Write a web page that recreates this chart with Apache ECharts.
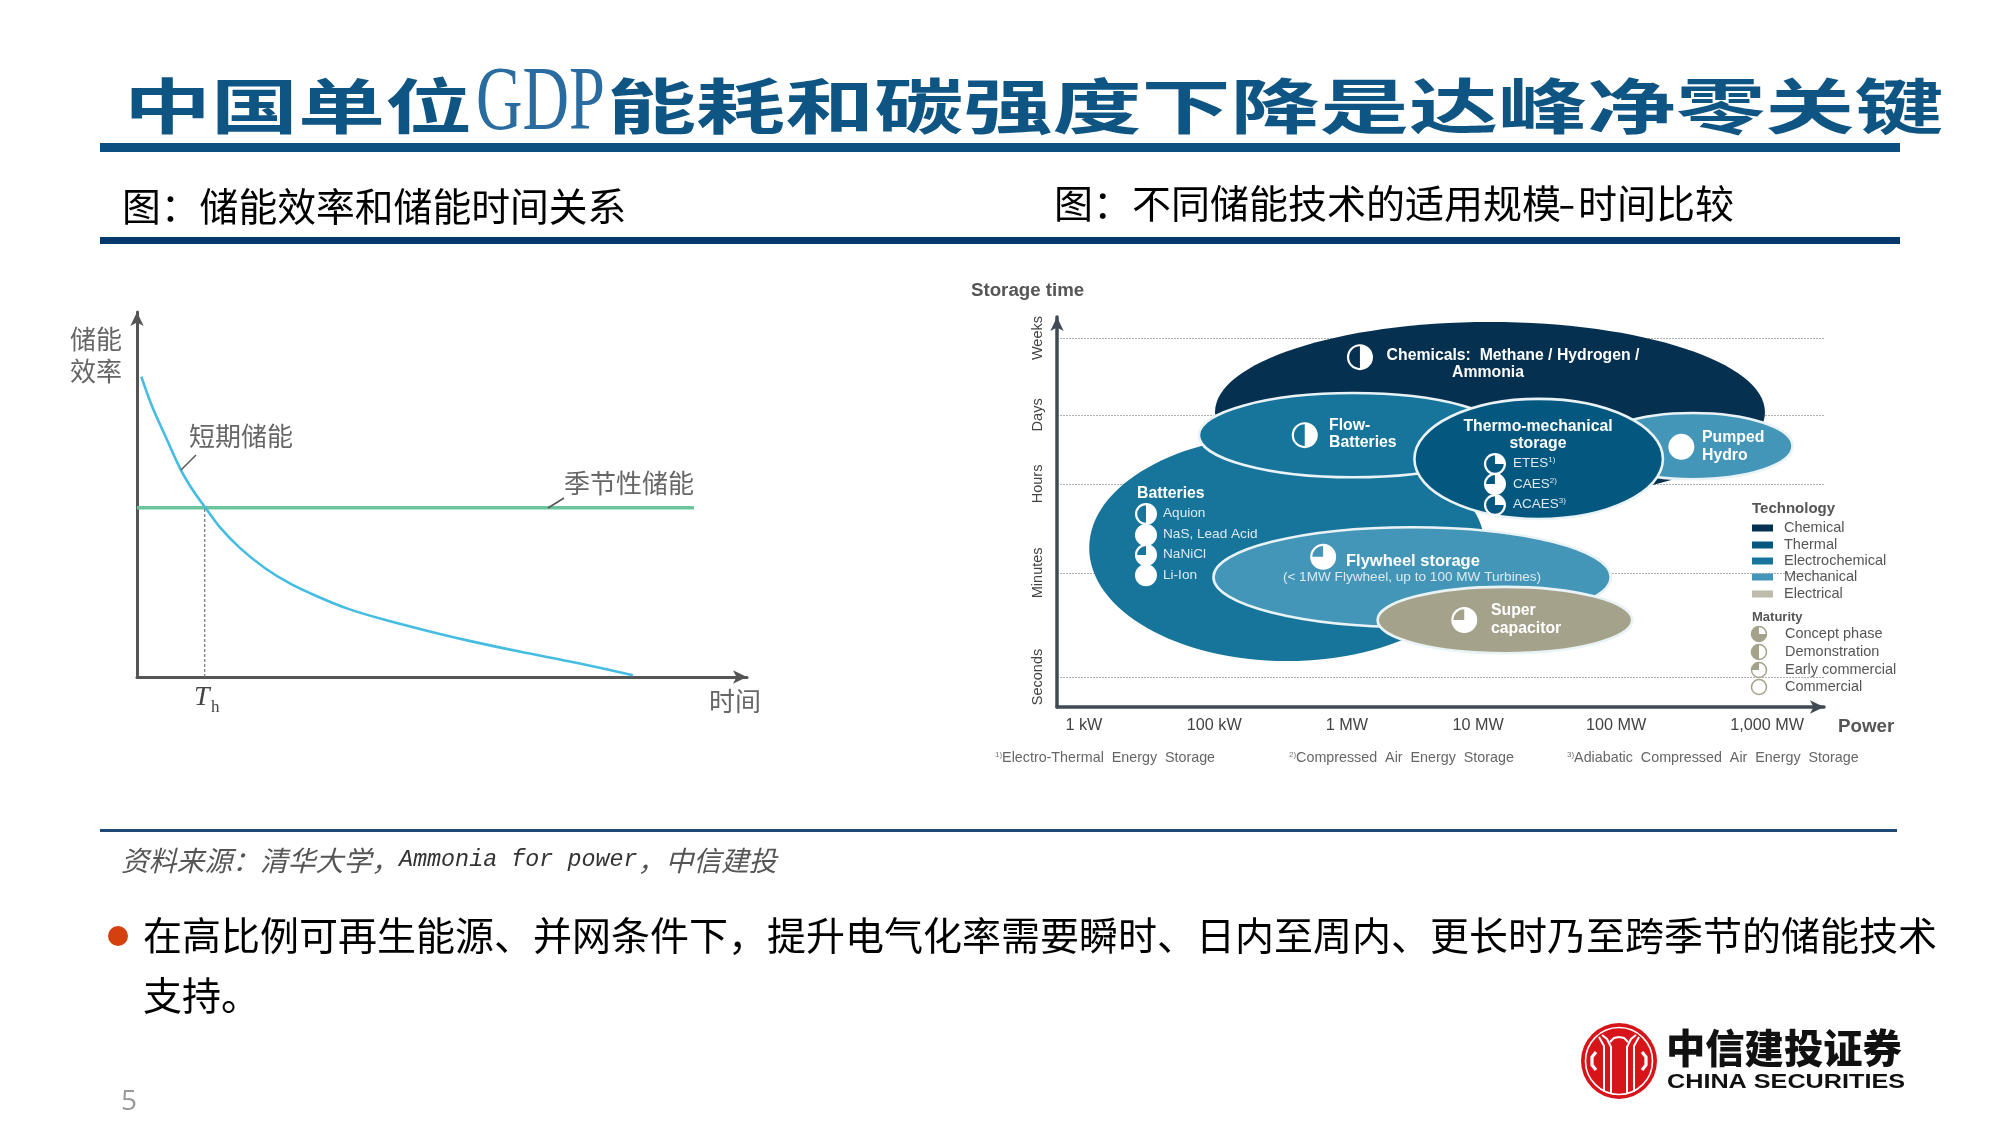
<!DOCTYPE html>
<html><head><meta charset="utf-8">
<style>html,body{margin:0;padding:0;background:#fff}#c{width:2000px;height:1125px}</style>
<script src="https://cdn.jsdelivr.net/npm/echarts@6/dist/echarts.min.js"></script>
</head><body><div id="c"></div>
<script>
// ---------- Left chart: efficiency vs. time (axis units 0-100) ----------
const shortTermTime = [0.7,2.6,4.7,7.2,9.3,11.2,13.5,16.9,21.0,25.2,29.4,34.4,40.3,47.0,54.5,62.9,72.0,81.3];
const shortTermEff  = [82.3,73.6,65.8,56.7,50.8,46.4,41.2,35.3,29.8,25.5,22.2,18.8,15.8,12.9,9.9,6.9,3.9,0.5];
const seasonalTime  = [0,91.3];
const seasonalEff   = [46.4,46.4];
const crossingTime  = 11.1;

// ---------- Right chart: power vs. storage time (axis units 0-100) ----------
const powerTicks  = [3.5,20.5,37.8,54.9,72.9,92.6];
const powerLabels = ['1 kW','100 kW','1 MW','10 MW','100 MW','1,000 MW'];
const timeTicks   = [7.7,34.4,57.2,74.9,94.6];
const timeLabels  = ['Seconds','Minutes','Hours','Days','Weeks'];

const techNames  = ['Chemicals','Batteries','Flow-Batteries','Pumped Hydro','Thermo-mechanical','Flywheel','Super capacitor'];
const techPower  = [56.45,30.0,38.6,82.9,62.8,46.3,58.4];
const techTime   = [75.6,40.8,69.7,66.9,63.6,33.3,22.3];
const techPowerR = [35.85,25.8,20.1,13.0,16.2,25.9,16.6];
const techTimeR  = [23.1,29.0,10.8,8.5,15.4,12.8,8.5];
const techGroup  = ['Chemical','Electrochemical','Electrochemical','Mechanical','Thermal','Mechanical','Electrical'];

const legendTech = ['Chemical','Thermal','Electrochemical','Mechanical','Electrical'];
const legendMaturity = ['Concept phase','Demonstration','Early commercial','Commercial'];
const maturityShare  = [0.75,0.5,0.25,0];

const ballNames = ['Chemicals','Flow','Pumped','ETES','CAES','ACAES','Aquion','NaS','NaNiCl','Li-Ion','Flywheel','Super'];
const ballPower = [39.5,32.3,81.4,57.1,57.1,57.1,11.6,11.6,11.6,11.6,34.7,53.1];
const ballTime  = [89.7,69.7,66.7,62.3,57.2,51.8,49.5,44.1,39.0,33.8,38.5,22.3];
const ballShare = [0.5,0.5,0,0.75,0.25,0.75,0.5,0,0.25,0,0.25,0.25];
const ballGroup = ['Chemical','Electrochemical','Mechanical','Thermal','Thermal','Thermal','Electrochemical','Electrochemical','Electrochemical','Electrochemical','Mechanical','Electrical'];

// ---------- Styles ----------
const CJK='"Noto Sans CJK SC"', LAT='"Liberation Sans"';
const techColor={Chemical:'#05304f',Thermal:'#04587f',Electrochemical:'#17759c',Mechanical:'#4396b8',Electrical:'#a5a28b'};
const legendColor=Object.assign({},techColor,{Electrical:'#bdbbaa'});
const bordered=[false,false,true,true,true,true,true];
const bigBall=[13,13,13,11,11,11,11,11,11,11,13,13];

function T(text,x,y,o){o=o||{};
  return {type:'text',x:x,y:y,z:o.z||50,scaleX:o.sx||1,scaleY:o.sy||1,silent:true,style:{
    text:text,fill:o.c||'#000',textAlign:o.a||'left',textVerticalAlign:'middle',
    fontFamily:o.f||LAT,fontSize:o.s||14,fontWeight:o.w||'normal',fontStyle:o.i||'normal',rich:o.rich
  }};
}
function R(x,y,w,h,c){return {type:'rect',z:40,silent:true,shape:{x:x,y:y,width:w,height:h},style:{fill:c}};}
function L(x1,y1,x2,y2,c,w){return {type:'line',z:40,silent:true,shape:{x1:x1,y1:y1,x2:x2,y2:y2},style:{stroke:c,lineWidth:w}};}

const g=[];
// title
g.push(T('中国单位',124,106,{s:60,w:700,f:CJK,c:'#0e5584',sx:1.45}));
g.push(T('GDP',476,105,{s:92,f:'"Liberation Serif"',c:'#2a6c9f',sx:0.7}));
g.push(T('能耗和碳强度下降是达峰净零关键',607,106,{s:60,w:700,f:CJK,c:'#0e5584',sx:1.485}));
g.push(R(100,143,1800,9,'#0b4f80'));
g.push(T('图：储能效率和储能时间关系',122,206,{s:38.8,f:CJK}));
g.push(T('图：不同储能技术的适用规模',1054,203,{s:39,f:CJK}));
g.push(T('-',1558,203,{s:39,f:CJK,sx:1.3}));
g.push(T('时间比较',1578,203,{s:39,f:CJK}));
g.push(R(100,237,1800,7,'#04396c'));
// left annotations
const grey='#666';
g.push(T('储能',96,339,{s:26,f:CJK,c:grey,a:'center'}));
g.push(T('效率',96,371,{s:26,f:CJK,c:grey,a:'center'}));
g.push(T('短期储能',241,436,{s:26,f:CJK,c:grey,a:'center'}));
g.push(T('季节性储能',629,483,{s:26,f:CJK,c:grey,a:'center'}));
g.push(T('时间',735,701,{s:26,f:CJK,c:grey,a:'center'}));
g.push(T('T',194,698,{s:28,f:'"Liberation Serif"',i:'italic',c:'#444'}));
g.push(T('h',211,708,{s:17,f:'"Liberation Serif"',c:'#444'}));
g.push(L(181,470,196,455,'#555',1.5));
g.push(L(548,508,564,498,'#555',1.5));
// right chart titles and labels
g.push(T('Storage time',971,291,{s:18.7,w:'bold',c:'#555'}));
g.push(T('Power',1838,727,{s:18.8,w:'bold',c:'#555'}));
const notes=[[995,'1)','Electro-Thermal  Energy  Storage'],[1289,'2)','Compressed  Air  Energy  Storage'],[1567,'3)','Adiabatic  Compressed  Air  Energy  Storage']];
notes.forEach(n=>g.push(T('{s|'+n[1]+'}{t|'+n[2]+'}',n[0],758,{rich:{s:{fontSize:8,fill:'#777',verticalAlign:'top',fontFamily:LAT},t:{fontSize:14.3,fill:'#666',fontFamily:LAT}}})));
// ellipse texts
const W='#fff',LW='#dce9ef';
const B={s:15.8,w:'bold',c:W,z:60};
g.push(T('Chemicals:  Methane / Hydrogen /',1513,356,Object.assign({a:'center'},B)));
g.push(T('Ammonia',1488,373,Object.assign({a:'center'},B)));
g.push(T('Flow-',1329,426,B));g.push(T('Batteries',1329,443,B));
g.push(T('Thermo-mechanical',1538,427,Object.assign({a:'center'},B)));
g.push(T('storage',1538,444,Object.assign({a:'center'},B)));
g.push(T('Pumped',1702,438,B));g.push(T('Hydro',1702,456,B));
g.push(T('Batteries',1137,494,B));
const sm={s:13.6,c:LW,z:60};
[['Aquion',513],['NaS, Lead Acid',534],['NaNiCl',554],['Li-Ion',575]].forEach(a=>g.push(T(a[0],1163,a[1],sm)));
[['ETES','1)',463],['CAES','2)',484],['ACAES','3)',504]].forEach(a=>g.push(T('{a|'+a[0]+'}{b|'+a[1]+'}',1513,a[2],{z:60,rich:{a:{fontSize:13.5,fill:LW,fontFamily:LAT},b:{fontSize:8,fill:LW,verticalAlign:'top',fontFamily:LAT}}})));
g.push(T('Flywheel storage',1346,561,{s:16.5,w:'bold',c:W,z:60}));
g.push(T('(< 1MW Flywheel, up to 100 MW Turbines)',1412,577,{s:13.6,c:LW,a:'center',z:60}));
g.push(T('Super',1491,611,B));g.push(T('capacitor',1491,629,B));
// legend
g.push(T('Technology',1752,509,{s:15,w:'bold',c:'#555'}));
legendTech.forEach((t,i)=>{const y=[528,545,561,577,594][i];
  g.push(R(1752,y-3.5,21,7,legendColor[t]));g.push(T(t,1784,y,{s:14.5,c:'#555'}));});
g.push(T('Maturity',1752,617,{s:13,w:'bold',c:'#555'}));
legendMaturity.forEach((t,i)=>{const y=[634,652,670,687][i],d=maturityShare[i];
  g.push({type:'circle',z:40,silent:true,shape:{cx:1759,cy:y,r:7.5},style:{fill:'#fff',stroke:'#a5a28b',lineWidth:1.5}});
  if(d>0)g.push({type:'sector',z:41,silent:true,shape:{cx:1759,cy:y,r:7.5,r0:0,startAngle:1.5*Math.PI-d*2*Math.PI,endAngle:1.5*Math.PI},style:{fill:'#a5a28b'}});
  g.push(T(t,1785,y,{s:14.5,c:'#555'}));});
// footer
g.push(R(100,829,1797,3,'#1f4a78'));
g.push(T('{c|资料来源：清华大学，}{m|Ammonia for power}{c|，中信建投}',121,860,{rich:{
  c:{fontSize:27.8,fontFamily:CJK,fontStyle:'italic',fill:'#555'},
  m:{fontSize:23.4,fontFamily:'"Liberation Mono"',fontStyle:'italic',fill:'#333'}}}));
g.push({type:'circle',z:40,silent:true,shape:{cx:118,cy:936,r:10},style:{fill:'#d4410f'}});
g.push(T('在高比例可再生能源、并网条件下，提升电气化率需要瞬时、日内至周内、更长时乃至跨季节的储能技术',143,935,{s:39,f:CJK}));
g.push(T('支持。',143,995,{s:39,f:CJK}));
g.push(T('5',129,1102,{s:28,c:'#999',a:'center',f:'"Open Sans"'}));
// logo
const lx=1619,ly=1061;
const lc=(pts,w)=>({type:'polyline',z:45,silent:true,shape:{points:pts.map(p=>[lx+p[0],ly+p[1]])},style:{stroke:'#fff',lineWidth:w||2,fill:null}});
g.push({type:'circle',z:44,silent:true,shape:{cx:lx,cy:ly,r:38},style:{fill:'#d7141a'}});
g.push({type:'circle',z:45,silent:true,shape:{cx:lx,cy:ly,r:33.5},style:{fill:null,stroke:'#fff',lineWidth:1.6}});
g.push(lc([[-15,31],[-15,-15],[-20,-24]]));
g.push(lc([[15,31],[15,-15],[20,-24]]));
g.push(lc([[-8,32],[-8,-14],[-12,-22],[-17,-26]]));
g.push(lc([[8,32],[8,-14],[12,-22],[17,-26]]));
g.push(lc([[-9,-19],[-5,-23],[0,-24],[5,-23],[9,-19]]));
g.push(lc([[-23,-9],[-27,-4],[-27,4],[-23,9]],3.2));
g.push(lc([[23,-9],[27,-4],[27,4],[23,9]],3.2));
g.push(T('中信建投证券',1666,1048,{s:39.3,w:900,f:CJK,c:'#111'}));
g.push(T('CHINA SECURITIES',1667,1082,{s:21,w:'bold',c:'#111',sx:1.2}));

// ---------- Chart ----------
const axisStyle={lineStyle:{color:'#555',width:3}};
const option={
  animation:false,backgroundColor:'#fff',
  grid:[
    {left:137,right:1253,top:312,bottom:448},
    {left:1057,right:176,top:317,bottom:418}
  ],
  xAxis:[
    {gridIndex:0,type:'value',min:0,max:100,splitLine:{show:false},axisTick:{show:false},axisLabel:{show:false},
     axisLine:Object.assign({show:true,onZero:false,symbol:['none','arrow'],symbolSize:[10,14],symbolOffset:[0,0]},axisStyle)},
    {gridIndex:1,type:'value',min:0,max:100,splitLine:{show:false},
     axisTick:{show:false,customValues:powerTicks},
     axisLabel:{customValues:powerTicks,margin:11,color:'#444',fontFamily:LAT,fontSize:16.2,
       formatter:v=>powerLabels[powerTicks.indexOf(v)]},
     axisLine:{show:true,onZero:false,symbol:['none','arrow'],symbolSize:[10,14],symbolOffset:[0,0],lineStyle:{color:'#3f4a55',width:3.5}}}
  ],
  yAxis:[
    {gridIndex:0,type:'value',min:0,max:100,splitLine:{show:false},axisTick:{show:false},axisLabel:{show:false},
     axisLine:Object.assign({show:true,onZero:false,symbol:['none','arrow'],symbolSize:[10,14],symbolOffset:[0,0]},axisStyle)},
    {gridIndex:1,type:'value',min:0,max:100,
     splitLine:{show:true,lineStyle:{color:'#b0b0b0',type:[2,1],width:1}},
     axisTick:{show:false,customValues:timeTicks},
     axisLabel:{customValues:timeTicks,margin:12,rotate:90,color:'#444',fontFamily:LAT,fontSize:14.5,
       formatter:v=>timeLabels[timeTicks.indexOf(v)]},
     axisLine:{show:true,onZero:false,symbol:['none','arrow'],symbolSize:[10,14],symbolOffset:[0,0],lineStyle:{color:'#3f4a55',width:3.5}}}
  ],
  series:[
    {type:'line',name:'季节性储能',xAxisIndex:0,yAxisIndex:0,showSymbol:false,
     data:seasonalTime.map((t,i)=>[t,seasonalEff[i]]),lineStyle:{color:'#6cc49c',width:3.5},z:2},
    {type:'line',name:'Th',xAxisIndex:0,yAxisIndex:0,showSymbol:false,
     data:[[crossingTime,0],[crossingTime,seasonalEff[0]]],lineStyle:{color:'#777',width:1.2,type:[3,2]},z:2},
    {type:'line',name:'短期储能',xAxisIndex:0,yAxisIndex:0,showSymbol:false,smooth:0.3,
     data:shortTermTime.map((t,i)=>[t,shortTermEff[i]]),lineStyle:{color:'#45bde3',width:2.6},z:3},
    {type:'custom',name:'tech',xAxisIndex:1,yAxisIndex:1,z:5,clip:false,
     data:techNames.map((n,i)=>({name:n,value:[techPower[i],techTime[i],techPowerR[i],techTimeR[i]]})),
     renderItem:function(p,api){
       const c=api.coord([api.value(0),api.value(1)]),s=api.size([api.value(2),api.value(3)]),i=p.dataIndex;
       return {type:'ellipse',shape:{cx:c[0],cy:c[1],rx:s[0],ry:s[1]},
         style:{fill:techColor[techGroup[i]],stroke:bordered[i]?'#e9f3f6':null,lineWidth:bordered[i]?2.6:0}};
     }},
    {type:'custom',name:'maturity',xAxisIndex:1,yAxisIndex:1,z:6,clip:false,
     data:ballNames.map((n,i)=>({name:n,value:[ballPower[i],ballTime[i],ballShare[i]]})),
     renderItem:function(p,api){
       const c=api.coord([api.value(0),api.value(1)]),d=api.value(2),i=p.dataIndex,r=bigBall[i];
       const kids=[{type:'circle',shape:{cx:c[0],cy:c[1],r:r},style:{fill:'#fff'}}];
       if(d>0)kids.push({type:'sector',shape:{cx:c[0],cy:c[1],r:r-2.2,r0:0,startAngle:1.5*Math.PI-d*2*Math.PI,endAngle:1.5*Math.PI},style:{fill:techColor[ballGroup[i]]}});
       return {type:'group',children:kids};
     }}
  ],
  graphic:{elements:g}
};
echarts.init(document.getElementById('c')).setOption(option);
</script></body></html>
